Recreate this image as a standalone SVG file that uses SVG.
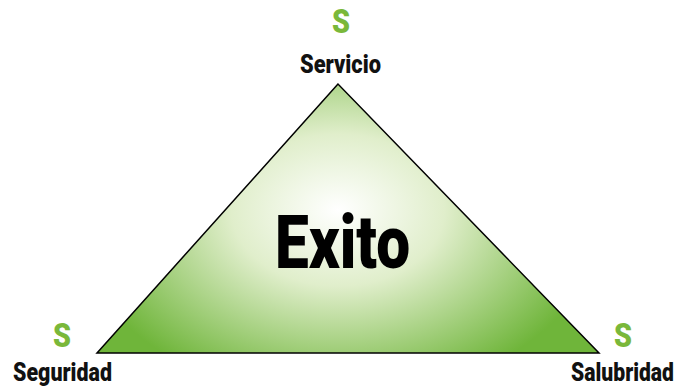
<svg xmlns="http://www.w3.org/2000/svg" width="679" height="388" viewBox="0 0 679 388">
<defs>
<radialGradient id="g" cx="338" cy="210" r="190" gradientUnits="userSpaceOnUse" gradientTransform="translate(338 210) scale(1.4 1) translate(-338 -210)">
<stop offset="0" stop-color="#ffffff"/>
<stop offset="0.4" stop-color="#e0eecb"/>
<stop offset="1" stop-color="#6fb53a"/>
</radialGradient>
</defs>
<style>
.s{font-family:Roboto,"Liberation Sans",sans-serif;font-weight:900;fill:#7ab83a;font-size:33px;text-anchor:middle}
.l{font-family:Roboto,"Liberation Sans",sans-serif;font-weight:900;fill:#111;font-size:25px}
</style>
<g id="triangle">
<polygon points="338,84 97,353 599,353" fill="url(#g)" stroke="#000" stroke-width="1.5"/>
<text x="275" y="268" textLength="135" lengthAdjust="spacingAndGlyphs" style="font-family:Roboto,'Liberation Sans',sans-serif;font-weight:900;font-size:75px;fill:#000">Exito</text>
</g>
<g id="top">
<text class="s" x="341" y="33" textLength="18" lengthAdjust="spacingAndGlyphs">S</text>
<text class="l" transform="translate(300 73) scale(0.82 1)" x="0" y="0" textLength="98.8" lengthAdjust="spacingAndGlyphs">Servicio</text>
</g>
<g id="left">
<text class="s" x="62" y="347" textLength="18" lengthAdjust="spacingAndGlyphs">S</text>
<text class="l" transform="translate(13 381) scale(0.82 1)" x="0" y="0" textLength="120.7" lengthAdjust="spacingAndGlyphs">Seguridad</text>
</g>
<g id="right">
<text class="s" x="623" y="347" textLength="18" lengthAdjust="spacingAndGlyphs">S</text>
<text class="l" transform="translate(571 381) scale(0.82 1)" x="0" y="0" textLength="125.6" lengthAdjust="spacingAndGlyphs">Salubridad</text>
</g>
</svg>
